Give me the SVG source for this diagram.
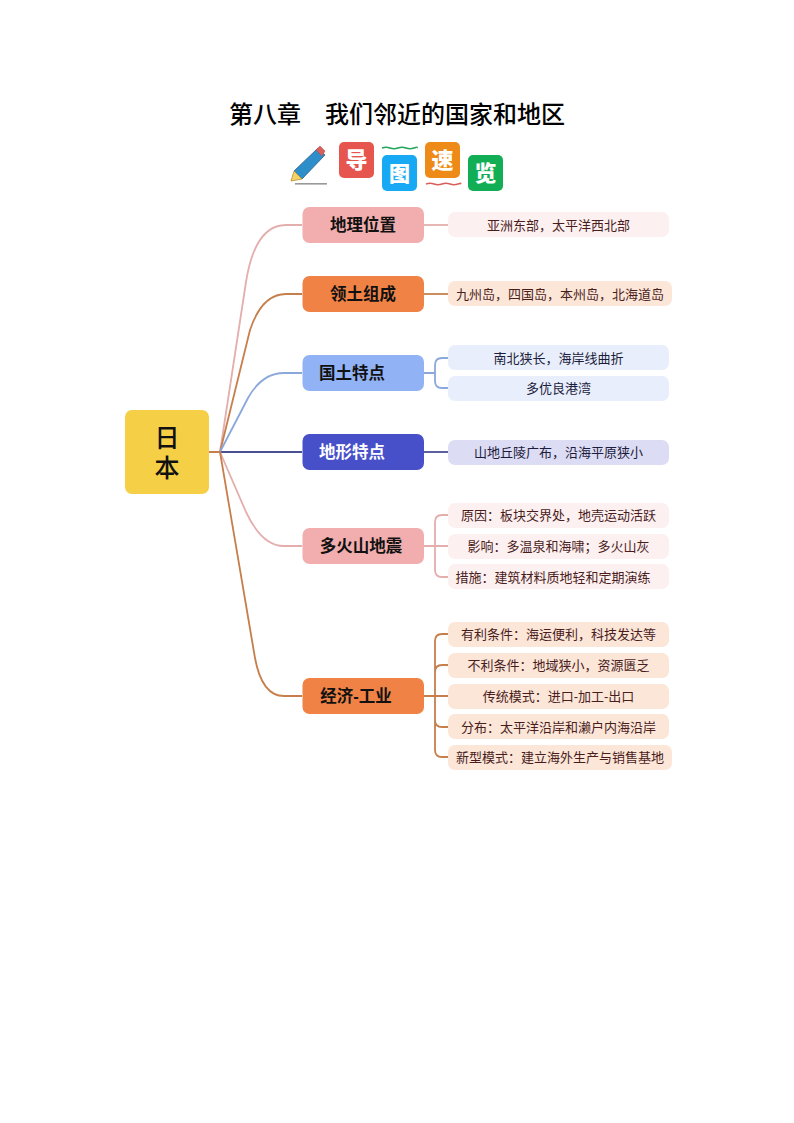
<svg xmlns="http://www.w3.org/2000/svg" width="794" height="1123" viewBox="0 0 794 1123">
<style>
text{font-family:"Liberation Sans","Noto Sans CJK SC",sans-serif;text-anchor:middle}
.title{font-family:"Liberation Serif","Noto Sans CJK SC",serif;font-size:24px;font-weight:500;fill:#000}
.ic{font-size:22px;font-weight:900;fill:#fff}
.t{font-size:16.500px;font-weight:700;fill:#111}
.l{font-size:13px;fill:#4a1c1c}
.c{fill:none;stroke-width:1.800}
.pk{stroke:#e3aeac}.or{stroke:#c67f4c}.bl{stroke:#8aa8dc}.nv{stroke:#4a4f92}
.lp{fill:#fdf0f0}.lo{fill:#fbe6d8}.lb{fill:#e8eefb}.ln{fill:#dcdcf4}
</style>
<rect width="794" height="1123" fill="#fff"/>
<text class="title" x="397" y="123">第八章　我们邻近的国家和地区</text>
<g id="icons">
<polygon points="294,171 318,148 325,155 302,179" fill="#2d8ec9" stroke="#2f5f86" stroke-width=".8"/>
<polygon points="291,181 294,171 302,179" fill="#f2d36b" stroke="#b98f2c" stroke-width=".8"/>
<polygon points="316,150 320,146 325,151 322,156" fill="#d9605a" stroke="#a84a45" stroke-width=".5"/>
<rect x="295" y="183" width="32" height="1.600" fill="#999"/>
<rect x="339" y="142" width="35" height="36" rx="5" fill="#e6564e"/>
<text class="ic" x="356.500" y="168">导</text>
<path d="M382 148q4-1.500 8 0t8 0t8 0t8 0t3 0" fill="none" stroke="#1fa659" stroke-width="1.600"/>
<rect x="382" y="155" width="35" height="36" rx="5" fill="#18a9f5"/>
<text class="ic" x="399.500" y="181" style="font-size:21px">图</text>
<rect x="425" y="142" width="35" height="36" rx="5" fill="#ee8a17"/>
<text class="ic" x="442.500" y="168">速</text>
<path d="M426 184q4-1.500 8 0t8 0t8 0t8 0t2 0" fill="none" stroke="#d9605a" stroke-width="1.600"/>
<rect x="468" y="155" width="35" height="36" rx="5" fill="#12ae55"/>
<text class="ic" x="485.500" y="181">览</text>
</g>
<g id="connectors">
<path class="c nv" d="M209 452H302"/>
<path class="c pk" d="M220 452L246 282Q255 225 286 225H302"/>
<path class="c or" d="M209 452H220L250 330Q262 294 286 294H302"/>
<path class="c bl" d="M220 452L248 398Q262 373 284 373H302"/>
<path class="c pk" d="M220 452L246 512Q262 546 284 546H302"/>
<path class="c or" d="M209 452H220L255 658Q262 696 284 696H302"/>
<path class="c pk" d="M424 225H448"/>
<path class="c or" d="M424 294H448"/>
<path class="c bl" d="M424 373H435M448 358H442Q435 358 435 365V381Q435 388 442 388H448"/>
<path class="c nv" d="M424 452H448"/>
<path class="c pk" d="M424 546H448M448 515H442Q435 515 435 522V570Q435 577 442 577H448"/>
<path class="c or" d="M424 696H448M448 634H442Q435 634 435 641V750Q435 757 442 757H448M435 672Q435 665 442 665H448M435 720Q435 727 442 727H448"/>
</g>
<g id="root"><rect x="125" y="410" width="84" height="84" rx="7" fill="#f5cf45"/><text x="167" y="447" style="font-size:25px;font-weight:500;fill:#111">日</text><text x="167" y="477" style="font-size:25px;font-weight:500;fill:#111">本</text></g>
<g id="n1"><rect x="302.500" y="207" width="121.500" height="36" rx="7" fill="#f2aeae"/><text class="t" x="363" y="231">地理位置</text></g>
<g id="n2"><rect x="302.500" y="276" width="121.500" height="36" rx="7" fill="#f08246"/><text class="t" x="363" y="300">领土组成</text></g>
<g id="n3"><rect x="302.500" y="355" width="121.500" height="36" rx="7" fill="#91b2f5"/><text class="t" x="352" y="379">国土特点</text></g>
<g id="n4"><rect x="302.500" y="434" width="121.500" height="36" rx="7" fill="#474fc9"/><text class="t" x="352" y="458" style="fill:#fff">地形特点</text></g>
<g id="n5"><rect x="302.500" y="528" width="121.500" height="36" rx="7" fill="#f2aeae"/><text class="t" x="361" y="552">多火山地震</text></g>
<g id="n6"><rect x="302.500" y="678" width="121.500" height="36" rx="7" fill="#f08246"/><text class="t" x="356" y="702">经济-工业</text></g>
<g id="l1"><rect class="lp" x="448" y="212" width="221" height="25" rx="7"/><text class="l" x="558.500" y="229.500">亚洲东部，太平洋西北部</text></g>
<g id="l2"><rect class="lo" x="448" y="281" width="224" height="25" rx="7"/><text class="l" x="560" y="298.500">九州岛，四国岛，本州岛，北海道岛</text></g>
<g id="l3"><rect class="lb" x="448" y="345" width="221" height="25" rx="7"/><text class="l" x="558.500" y="362.500" style="fill:#1c1c3c">南北狭长，海岸线曲折</text></g>
<g id="l4"><rect class="lb" x="448" y="376" width="221" height="25" rx="7"/><text class="l" x="558.500" y="392.500" style="fill:#1c1c3c">多优良港湾</text></g>
<g id="l5"><rect class="ln" x="448" y="440" width="221" height="25" rx="7"/><text class="l" x="558.500" y="456.500" style="fill:#1c1c3c">山地丘陵广布，沿海平原狭小</text></g>
<g id="l6"><rect class="lp" x="448" y="503" width="221" height="25" rx="7"/><text class="l" x="558.500" y="520">原因：板块交界处，地壳运动活跃</text></g>
<g id="l7"><rect class="lp" x="448" y="534" width="221" height="25" rx="7"/><text class="l" x="558.500" y="551">影响：多温泉和海啸；多火山灰</text></g>
<g id="l8"><rect class="lp" x="448" y="564" width="221" height="25" rx="7"/><text class="l" x="553" y="581.500">措施：建筑材料质地轻和定期演练</text></g>
<g id="l9"><rect class="lo" x="448" y="622" width="221" height="25" rx="7"/><text class="l" x="558.500" y="639">有利条件：海运便利，科技发达等</text></g>
<g id="l10"><rect class="lo" x="448" y="653" width="221" height="25" rx="7"/><text class="l" x="558.500" y="670">不利条件：地域狭小，资源匮乏</text></g>
<g id="l11"><rect class="lo" x="448" y="684" width="221" height="25" rx="7"/><text class="l" x="558.500" y="701">传统模式：进口-加工-出口</text></g>
<g id="l12"><rect class="lo" x="448" y="714" width="221" height="25" rx="7"/><text class="l" x="558.500" y="731.500">分布：太平洋沿岸和濑户内海沿岸</text></g>
<g id="l13"><rect class="lo" x="448" y="745" width="224" height="25" rx="7"/><text class="l" x="560" y="762">新型模式：建立海外生产与销售基地</text></g>
</svg>
